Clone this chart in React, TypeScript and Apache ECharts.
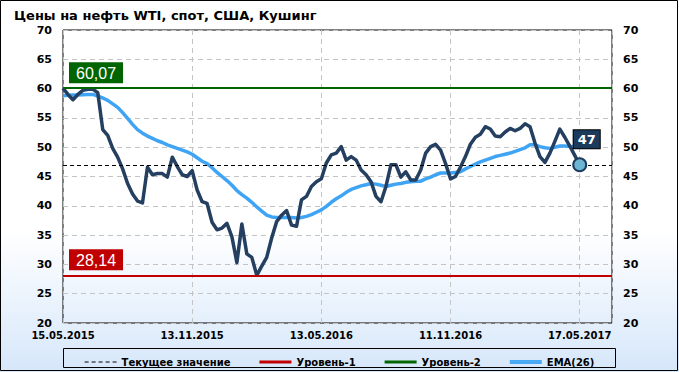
import React, { useEffect, useRef } from 'react';
import * as echarts from 'echarts';

const titleText = 'Цены на нефть WTI, спот, США, Кушинг';
const dateLabels = ['15.05.2015', '13.11.2015', '13.05.2016', '11.11.2016', '17.05.2017'];
const legendNames = ['Текущее значение', 'Уровень-1', 'Уровень-2', 'EMA(26)'];

const priceValues = [
  60.07, 59.0, 58.1, 59.0, 59.7, 59.9, 59.9, 59.3, 53.0, 52.0,
  49.8, 48.3, 46.3, 43.8, 42.0, 40.8, 40.5, 46.6, 45.3, 45.5,
  45.5, 44.9, 48.3, 46.7, 45.3, 45.0, 46.0, 42.7, 40.7, 40.4,
  37.2, 35.9, 36.2, 37.0, 34.7, 30.3, 36.9, 31.8, 31.2, 28.14,
  29.7, 31.2, 34.5, 37.3, 38.4, 39.2, 36.7, 36.5, 41.0, 41.6,
  43.3, 44.1, 44.6, 47.3, 48.7, 49.0, 50.1, 47.8, 48.4, 47.8,
  46.1, 45.3, 44.1, 41.6, 40.7, 43.3, 47.0, 47.0, 44.9, 45.8,
  44.4, 44.4, 46.1, 49.0, 50.1, 50.5, 49.5, 47.2, 44.6, 45.0,
  46.6, 48.4, 50.5, 51.7, 52.2, 53.5, 53.1, 51.9, 51.8, 52.6,
  53.2, 52.8, 53.2, 54.0, 53.5, 50.7, 48.4, 47.4, 49.0, 51.0,
  53.1, 51.7, 50.2, 48.6, 47.0,
];

const emaValues = [
  58.8, 58.85, 58.9, 58.9, 58.95, 59.0, 59.0, 58.7, 58.4, 58.0,
  57.4, 56.8, 55.9, 54.9, 53.9, 53.0, 52.4, 51.9, 51.5, 51.1,
  50.8, 50.4, 50.1, 49.8, 49.5, 49.2, 48.8, 48.2, 47.6, 47.2,
  46.5, 45.7, 45.0, 44.3, 43.5, 42.6, 41.9, 41.3, 40.6, 39.8,
  39.1, 38.4, 38.1, 38.0, 38.0, 38.0, 38.0, 37.9, 38.0, 38.2,
  38.5, 38.9, 39.3, 39.9, 40.6, 41.2, 41.7, 42.3, 42.8, 43.1,
  43.4, 43.6, 43.8, 43.7, 43.5, 43.3, 43.5, 43.7, 43.8, 44.0,
  44.1, 44.2, 44.2, 44.6, 44.9, 45.3, 45.6, 45.6, 45.6, 45.7,
  45.8, 46.3, 46.7, 47.1, 47.5, 47.8, 48.1, 48.4, 48.6, 48.8,
  49.0, 49.3, 49.6, 49.9, 50.4, 50.4, 50.1, 49.9, 49.8, 50.0,
  50.2, 50.2, 50.1, 50.1, 50.1,
];

const currentValue = 47;
const level1 = 28.14;
const level2 = 60.07;

const dashIcon = 'path://M0,0h4v1h-4z M7,0h4v1h-4z M14,0h4v1h-4z M21,0h4v1h-4z M28,0h4v1h-4z';
const solidIcon3 = 'path://M0,0h32v3h-32z';
const solidIcon4 = 'path://M0,0h32v4h-32z';

export default function App() {
  const ref = useRef<HTMLDivElement>(null);

  useEffect(() => {
    const chart = echarts.init(ref.current as HTMLDivElement, null, { renderer: 'svg' });
    const fmt = (v: number) => v.toFixed(2).replace('.', ',');
    const lastIdx = priceValues.length - 1;
    const axisFont = { fontFamily: 'DejaVu Sans', fontWeight: 'bold', fontSize: 11, color: '#000' };
    const splitStyle = { color: '#c4c4c4', width: 1, type: [5, 4] };

    const levelLabel = (bg: string, v: number) => ({
      show: true,
      position: 'insideStartTop',
      formatter: fmt(v),
      color: '#fff',
      backgroundColor: bg,
      fontFamily: 'Liberation Sans',
      fontSize: 16,
      padding: [3, 7, 2, 7],
      distance: [6, 5],
    });

    const icons = [dashIcon, solidIcon3, solidIcon3, solidIcon4];

    const option: any = {
      animation: false,
      backgroundColor: {
        type: 'linear', x: 0, y: 0, x2: 0, y2: 1,
        colorStops: [
          { offset: 0, color: '#ffffff' },
          { offset: 0.62, color: '#ffffff' },
          { offset: 1, color: '#d6e7fa' },
        ],
      },
      title: {
        text: titleText,
        left: 9,
        top: 4,
        textStyle: { fontFamily: 'DejaVu Sans', fontWeight: 'bold', fontSize: 13, color: '#000' },
      },
      grid: { left: 63, right: 67, top: 30, bottom: 49, show: true, borderColor: '#000', borderWidth: 1, backgroundColor: 'transparent' },
      legend: {
        data: legendNames.map((n, i) => ({ name: n, icon: icons[i] })),
        left: 'center',
        top: 352,
        itemWidth: 32,
        itemHeight: 10,
        itemGap: 29,
        selectedMode: false,
        textStyle: { fontFamily: 'DejaVu Sans', fontWeight: 'bold', fontSize: 10, color: '#000' },
      },
      graphic: [
        { type: 'rect', silent: true, shape: { x: 0.5, y: 0.5, width: 677, height: 370 }, style: { fill: 'none', stroke: '#000', lineWidth: 1 } },
        { type: 'rect', silent: true, shape: { x: 63.5, y: 348.5, width: 552, height: 19 }, style: { fill: 'none', stroke: '#000', lineWidth: 1 } },
      ],
      xAxis: {
        type: 'value',
        min: 0,
        max: 110.5,
        interval: 26,
        axisLine: { show: false },
        axisTick: { show: false },
        splitLine: { show: true, lineStyle: splitStyle },
        axisLabel: {
          ...axisFont,
          fontSize: 10,
          margin: 7,
          showMaxLabel: false,
          formatter: (v: number) => {
            const k = Math.round(v / 26);
            return Math.abs(v - k * 26) < 1e-6 && k < dateLabels.length ? dateLabels[k] : '';
          },
        },
      },
      yAxis: [
        {
          type: 'value', min: 20, max: 70, interval: 5, position: 'left',
          axisLine: { show: false }, axisTick: { show: false },
          splitLine: { show: true, lineStyle: splitStyle },
          axisLabel: { ...axisFont, margin: 11 },
        },
        {
          type: 'value', min: 20, max: 70, interval: 5, position: 'right',
          axisLine: { show: false }, axisTick: { show: false },
          splitLine: { show: false },
          axisLabel: { ...axisFont, margin: 11 },
        },
      ],
      series: [
        {
          name: 'Текущее значение', type: 'line', data: [], symbol: 'none',
          lineStyle: { color: '#000', width: 1, type: [3, 3] },
          itemStyle: { color: '#000' },
          markLine: {
            silent: true, symbol: ['none', 'none'],
            data: [{ yAxis: currentValue }],
            lineStyle: { color: '#000', width: 1, type: [4, 3] },
            label: { show: false },
          },
          z: 2,
        },
        {
          name: 'Уровень-1', type: 'line', data: [], symbol: 'none',
          lineStyle: { color: '#c00000', width: 3 },
          itemStyle: { color: '#c00000' },
          markLine: {
            silent: true, symbol: ['none', 'none'],
            data: [{ yAxis: level1 }],
            lineStyle: { color: '#c00000', width: 2, type: 'solid' },
            label: levelLabel('#c00000', level1),
          },
          z: 2,
        },
        {
          name: 'Уровень-2', type: 'line', data: [], symbol: 'none',
          lineStyle: { color: '#006400', width: 3 },
          itemStyle: { color: '#006400' },
          markLine: {
            silent: true, symbol: ['none', 'none'],
            data: [{ yAxis: level2 }],
            lineStyle: { color: '#006400', width: 2, type: 'solid' },
            label: levelLabel('#006400', level2),
          },
          z: 2,
        },
        {
          name: 'EMA(26)', type: 'line', symbol: 'none',
          data: emaValues.map((v, i) => [i, v]),
          lineStyle: { color: '#40a4f4', width: 3.5 },
          itemStyle: { color: '#4aaaf6' },
          z: 3,
        },
        {
          name: 'WTI', type: 'line', symbol: 'none',
          data: priceValues.map((v, i) => [i, v]),
          lineStyle: { color: '#243f60', width: 3.5, join: 'round' },
          itemStyle: { color: '#243f60' },
          z: 4,
        },
        {
          name: 'last', type: 'scatter',
          data: [[lastIdx, priceValues[lastIdx]]],
          symbolSize: 13,
          itemStyle: { color: '#6cb6d3', borderColor: '#1d3b5e', borderWidth: 2, opacity: 1 },
          label: {
            show: true, position: 'top', distance: 9, offset: [7, 0],
            formatter: (p: any) => String(Math.round(p.value[1])),
            color: '#fff', backgroundColor: '#1b3a5c',
            fontFamily: 'DejaVu Sans', fontWeight: 'bold', fontSize: 13,
            padding: [3, 4, 2, 4], borderColor: '#000', borderWidth: 1,
          },
          z: 5,
        },
      ],
    };

    chart.setOption(option);
    return () => chart.dispose();
  }, []);

  return <div ref={ref} style={{ position: 'absolute', left: 0, top: 0, width: 679, height: 372 }} />;
}
